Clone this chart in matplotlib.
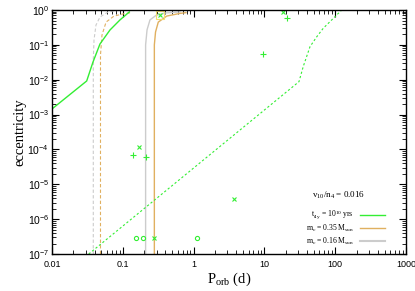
import numpy as np
import matplotlib
matplotlib.use('Agg')
import matplotlib.pyplot as plt

plt.rcParams['font.family'] = ['Liberation Serif', 'DejaVu Serif']
plt.rcParams['mathtext.fontset'] = 'custom'
plt.rcParams['mathtext.rm'] = 'Liberation Serif'
plt.rcParams['mathtext.it'] = 'Liberation Serif:italic'
plt.rcParams['mathtext.sf'] = 'Liberation Sans'

# t_fly = 1e10 yrs curves (solid / dashed)
fly_p = [0.01, 0.0309, 0.0379, 0.0476, 0.0659, 0.0913, 0.1236]
fly_e = [1.45e-3, 9.2e-3, 0.032, 0.106, 0.267, 0.52, 0.88]
fly2_p = [0.033, 30.8, 35.4, 44.1, 54.8, 67.9, 89.1, 123.6]
fly2_e = [1e-7, 8.8e-3, 0.024, 0.089, 0.17, 0.30, 0.517, 1.0]

# m_c = 0.35 Msun
m35_p = [0.279, 0.279, 0.29, 0.317, 0.417, 0.643, 0.78]
m35_e = [1e-7, 0.1, 0.234, 0.45, 0.67, 0.80, 0.84]
m35d_p = [0.0484, 0.0484, 0.0508, 0.058, 0.0751, 0.1007, 0.135]
m35d_e = [1e-7, 0.051, 0.19, 0.45, 0.67, 0.77, 0.85]

# m_c = 0.16 Msun
m16_p = [0.21, 0.21, 0.22, 0.242, 0.294, 0.394, 0.643]
m16_e = [1e-7, 0.1, 0.27, 0.52, 0.70, 0.82, 0.88]
m16d_p = [0.0383, 0.0383, 0.0392, 0.0418, 0.0476, 0.0618, 0.0913]
m16d_e = [1e-7, 0.037, 0.138, 0.37, 0.63, 0.88, 1.0]

# observed systems
plus_p = [0.139, 0.21, 9.7, 20.6]
plus_e = [6.9e-5, 5.9e-5, 0.055, 0.58]
cross_p = [0.17, 3.76, 0.28, 0.33, 18.5]
cross_e = [1.2e-4, 3.9e-6, 2.9e-7, 0.7, 0.9]
circ_p = [0.153, 0.195, 1.1]
circ_e = [2.9e-7, 2.9e-7, 2.9e-7]
box_p = [0.33]
box_e = [0.7]

legend_labels = ['t$_{\\rm fly}$ = 10$^{10}$ yrs',
                 'm$_{\\rm c}$ = 0.35 M$_{\\rm sun}$',
                 'm$_{\\rm c}$ = 0.16 M$_{\\rm sun}$']
legend_title = 'v$_{10}$/n$_4$ = 0.016'

green = '#33ee33'
orange = '#e0b060'
gray = '#cccccc'

fig = plt.figure(figsize=(4.15, 2.91), dpi=100)
ax = fig.add_axes([0.1253, 0.1271, 0.8530, 0.8385])

ax.plot(m16d_p, m16d_e, color=gray, lw=0.8, ls=(0, (3, 2)))
ax.plot(m35d_p, m35d_e, color=orange, lw=0.8, ls=(0, (3, 2)))
ax.plot(m16_p, m16_e, color=gray, lw=1.0)
ax.plot(m35_p, m35_e, color=orange, lw=1.0)
ax.plot(fly_p, fly_e, color=green, lw=1.0)
ax.plot(fly2_p, fly2_e, color=green, lw=0.8, ls=(0, (2, 2)))

ax.plot(box_p, box_e, ls='none', marker='s', ms=6, mfc='none', mec='#f0e070', mew=0.8)
ax.plot(plus_p, plus_e, ls='none', marker='+', ms=4, color=green, mew=0.8)
ax.plot(cross_p, cross_e, ls='none', marker='x', ms=3.5, color=green, mew=0.8)
ax.plot(circ_p, circ_e, ls='none', marker='o', ms=3, mfc='none', mec=green, mew=0.8)

ax.set_xscale('log')
ax.set_yscale('log')
ax.set_xlim(0.01, 1000)
ax.set_ylim(1e-7, 1)

xt = [0.01, 0.1, 1, 10, 100, 1000]
ax.set_xticks(xt)
ax.set_xticklabels(['0.01', '0.1', '1', '10', '100', '1000'], family='Liberation Sans')
yt = [1e-7, 1e-6, 1e-5, 1e-4, 1e-3, 1e-2, 1e-1, 1]
ax.set_yticks(yt)
ax.set_yticklabels(['$\\mathsf{10^{-%d}}$' % k if k else '$\\mathsf{10^{0}}$'
                    for k in range(7, -1, -1)])
ax.tick_params(which='both', direction='in', top=True, right=True)
ax.tick_params(axis='x', labelsize=6.5, pad=4.5)
ax.tick_params(axis='y', labelsize=7.5, pad=2)
ax.tick_params(which='major', length=5, width=0.8)
ax.tick_params(which='minor', length=3, width=0.6)
for s in ax.spines.values():
    s.set_linewidth(1.0)

ax.set_xlabel('P$_{\\rm orb}$ (d)', fontsize=10.5, labelpad=1)
ax.set_ylabel('eccentricity', fontsize=10.5, labelpad=1)

# legend block drawn by hand in axes coordinates
ax.text(0.809, 0.242, legend_title, transform=ax.transAxes, fontsize=6.5,
        ha='center', va='center')
rows = [0.160, 0.107, 0.053]
for lab, col, y in zip(legend_labels, [green, orange, gray], rows):
    ax.text(0.853, y, lab, transform=ax.transAxes, fontsize=5.5,
            ha='right', va='center')
    ax.plot([0.870, 0.941], [y, y], color=col, lw=1.0 if col != gray else 1.5,
            transform=ax.transAxes)

fig.savefig('out.png', dpi=100)
